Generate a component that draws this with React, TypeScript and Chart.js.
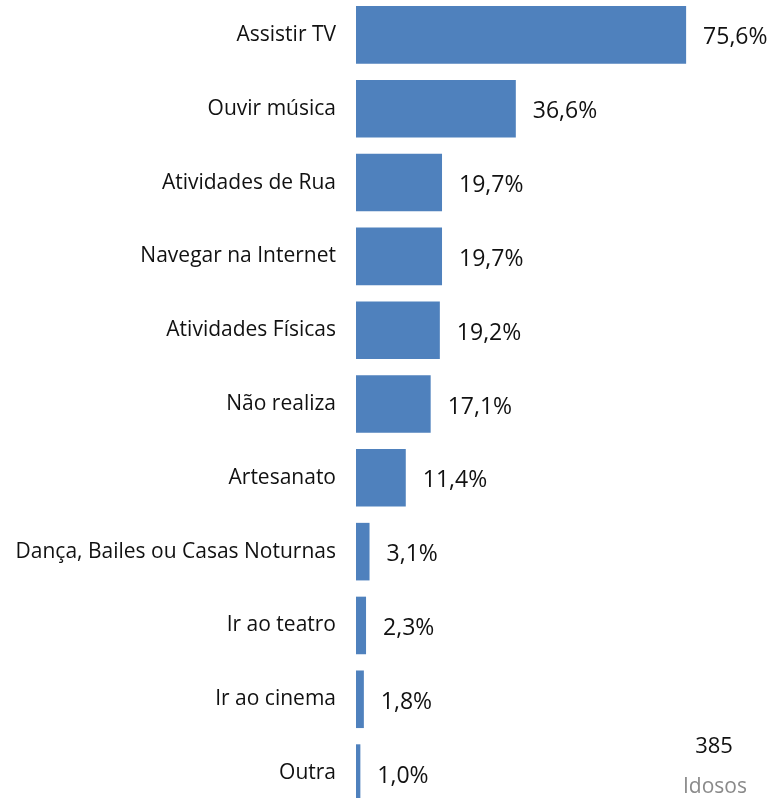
import React, { useEffect, useRef } from "react";
import { Chart, registerables } from "chart.js";

Chart.register(...registerables);

const categories = [
  "Assistir TV",
  "Ouvir música",
  "Atividades de Rua",
  "Navegar na Internet",
  "Atividades Físicas",
  "Não realiza",
  "Artesanato",
  "Dança, Bailes ou Casas Noturnas",
  "Ir ao teatro",
  "Ir ao cinema",
  "Outra",
];
const values = [75.6, 36.6, 19.7, 19.7, 19.2, 17.1, 11.4, 3.1, 2.3, 1.8, 1.0];
const totalLabel = "385";
const totalSub = "Idosos";

const FONT = "'Open Sans', 'Noto Sans', sans-serif";
const fmt = (v: number) => v.toFixed(1).replace(".", ",") + "%";

const valueLabels = {
  id: "valueLabels",
  afterDatasetsDraw(chart: any) {
    const ctx = chart.ctx;
    const meta = chart.getDatasetMeta(0);
    ctx.save();
    ctx.font = `23px ${FONT}`;
    ctx.fillStyle = "#111";
    ctx.textAlign = "left";
    ctx.textBaseline = "middle";
    meta.data.forEach((el: any, i: number) => {
      ctx.fillText(fmt(values[i]), el.x + 17, el.y + 3);
    });
    ctx.textAlign = "center";
    ctx.textBaseline = "alphabetic";
    ctx.font = `22px ${FONT}`;
    ctx.fillStyle = "#111";
    ctx.fillText(totalLabel, 714, 755);
    ctx.font = `21px ${FONT}`;
    ctx.fillStyle = "#8a8a8a";
    ctx.fillText(totalSub, 715, 795);
    ctx.restore();
  },
};

export default function App() {
  const ref = useRef<HTMLCanvasElement>(null);
  useEffect(() => {
    if (!ref.current) return;
    const chart = new Chart(ref.current, {
      type: "bar",
      data: {
        labels: categories,
        datasets: [
          {
            data: values,
            backgroundColor: "#4F81BD",
            borderWidth: 0,
            categoryPercentage: 1,
            barPercentage: 0.78,
          },
        ],
      },
      options: {
        indexAxis: "y",
        animation: false,
        responsive: false,
        maintainAspectRatio: false,
        layout: { padding: { left: 0, right: 26, top: 0, bottom: 0 } },
        plugins: {
          legend: { display: false },
          tooltip: { enabled: false },
        },
        scales: {
          x: {
            display: false,
            min: 0,
            max: 90,
          },
          y: {
            grid: { display: false, drawTicks: false },
            border: { display: false },
            ticks: {
              padding: 20,
              color: "#111",
              font: { family: FONT, size: 21 },
            },
            afterFit(scale: any) {
              scale.width = 356;
              scale.paddingTop = 0;
              scale.paddingBottom = 0;
            },
          },
        },
      },
      plugins: [valueLabels],
    });
    return () => chart.destroy();
  }, []);
  return (
    <div
      style={{
        position: "fixed",
        left: 0,
        top: 0,
        width: 775,
        height: 798,
        overflow: "hidden",
        background: "#fff",
      }}
    >
      <canvas
        ref={ref}
        width={775}
        height={812}
        style={{ position: "absolute", left: 0, top: -2, width: 775, height: 812 }}
      />
    </div>
  );
}
